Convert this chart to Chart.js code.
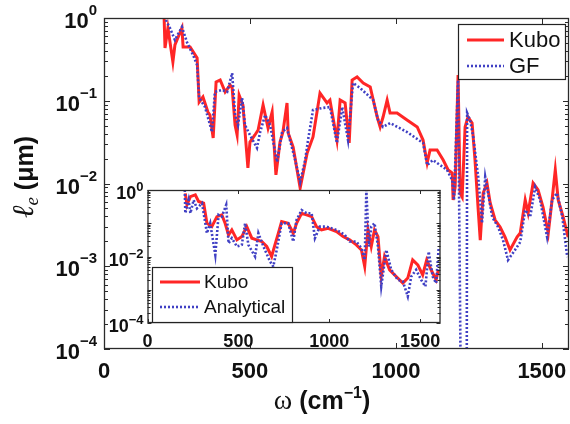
<!DOCTYPE html>
<html>
<head>
<meta charset="utf-8">
<script src="https://cdn.jsdelivr.net/npm/chart.js@4.4.1/dist/chart.umd.min.js"></script>
<style>
  html, body { margin: 0; padding: 0; background: #fff; }
  #wrap { position: relative; width: 570px; height: 424px; overflow: hidden; }
  #mainChart { position: absolute; left: 0; top: 0; }
  #insetChart { position: absolute; left: 100px; top: 180px; }
</style>
</head>
<body>
<div id="wrap">
  <canvas id="mainChart" width="570" height="424"></canvas>
  <canvas id="insetChart" width="350" height="175"></canvas>
</div>
<script>
const SANS = '"Liberation Sans", Arial, sans-serif';
const SERIF = '"Liberation Serif", "DejaVu Serif", serif';
const RED = '#ff2626';
const BLUE = '#4040c4';

// main panel: mean free path (um) vs frequency (cm^-1)
const kuboW = [206, 209, 219, 236, 243, 267, 271, 295, 319, 326,
  339, 356, 363, 374, 384, 398, 415, 432, 439, 449,
  456, 463, 476, 493, 500, 517, 528, 545, 562, 576,
  589, 603, 613, 627, 631, 648, 672, 696, 716, 740,
  764, 774, 798, 809, 826, 840, 850, 867, 888, 912,
  936, 946, 956, 970, 980, 1004, 1038, 1073, 1093, 1107,
  1117, 1141, 1162, 1179, 1193, 1196, 1203, 1213, 1220, 1227,
  1237, 1247, 1261, 1271, 1282, 1289, 1299, 1312, 1323, 1340,
  1357, 1374, 1391, 1415, 1426, 1443, 1453, 1470, 1487, 1504,
  1522, 1535, 1546, 1556, 1573, 1590];
const kuboL = [1.0, 0.434, 0.757, 0.294, 0.472, 0.757, 0.447, 0.447, 0.329, 0.0966,
  0.111, 0.0731, 0.0673, 0.0355, 0.169, 0.178, 0.128, 0.155, 0.143, 0.0509,
  0.0386, 0.117, 0.0889, 0.0154, 0.0317, 0.0386, 0.0443, 0.0889, 0.0469, 0.0731,
  0.0127, 0.0317, 0.0419, 0.094, 0.0408, 0.0276, 0.00883, 0.0234, 0.0365, 0.124,
  0.094, 0.102, 0.0335, 0.102, 0.094, 0.0309, 0.178, 0.194, 0.164, 0.147,
  0.0636, 0.0482, 0.0636, 0.102, 0.0711, 0.0711, 0.0585, 0.0482, 0.0335, 0.0177,
  0.0254, 0.0254, 0.0192, 0.0146, 0.0134, 0.00632, 0.00908, 0.205, 0.00767, 0.00687,
  0.0482, 0.0636, 0.0538, 0.0192, 0.00479, 0.00207, 0.00767, 0.0101, 0.00581, 0.00362,
  0.00298, 0.00225, 0.00157, 0.00225, 0.00252, 0.00632, 0.0044, 0.0101, 0.00834, 0.0052,
  0.00252, 0.00632, 0.0146, 0.00632, 0.00394, 0.00225];

const gfW = [212, 226, 243, 267, 284, 305, 319, 326, 346, 370,
  380, 404, 422, 439, 449, 459, 473, 483, 500, 524,
  535, 552, 569, 593, 610, 627, 637, 655, 672, 689,
  699, 716, 747, 774, 798, 816, 836, 853, 877, 922,
  939, 956, 980, 1038, 1093, 1107, 1127, 1175, 1193, 1199,
  1213, 1226, 1242, 1244, 1254, 1265, 1282, 1295, 1306, 1312,
  1330, 1350, 1367, 1384, 1408, 1426, 1443, 1460, 1477, 1494,
  1518, 1535, 1552, 1570, 1587];
const gfL = [0.946, 0.757, 0.542, 0.778, 0.513, 0.357, 0.27, 0.108, 0.084, 0.0419,
  0.128, 0.135, 0.128, 0.216, 0.0673, 0.0509, 0.108, 0.0509, 0.0386, 0.0269,
  0.0419, 0.0673, 0.0509, 0.0182, 0.0419, 0.0469, 0.0335, 0.0192, 0.0104, 0.0192,
  0.0335, 0.0773, 0.0817, 0.084, 0.0309, 0.084, 0.0335, 0.164, 0.143, 0.102,
  0.0585, 0.0482, 0.0538, 0.0419, 0.0309, 0.0167, 0.0192, 0.0146, 0.011, 0.00632,
  0.178, 0.000001, 0.000001, 0.0711, 0.0585, 0.0365, 0.012, 0.00333, 0.012, 0.00908,
  0.00394, 0.00298, 0.00207, 0.00119, 0.00157, 0.00196, 0.00479, 0.00394, 0.00908, 0.00632,
  0.00225, 0.00632, 0.00767, 0.00394, 0.00129];

// inset: Kubo vs analytical
const insetKuboW = [208, 217, 236, 263, 281, 309, 327, 354, 382, 409,
  427, 446, 464, 492, 519, 546, 574, 601, 629, 656,
  683, 701, 720, 738, 774, 802, 820, 848, 875, 903,
  930, 957, 994, 1040, 1076, 1112, 1149, 1177, 1195, 1213,
  1231, 1249, 1268, 1286, 1304, 1332, 1368, 1405, 1432, 1459,
  1487, 1514, 1536, 1560, 1588, 1600];
const insetKuboL = [0.79, 0.355, 0.63, 0.71, 0.45, 0.4, 0.1, 0.079, 0.158, 0.178,
  0.1, 0.0447, 0.063, 0.0316, 0.0398, 0.079, 0.0355, 0.0316, 0.0282, 0.02,
  0.01, 0.0224, 0.05, 0.112, 0.1, 0.05, 0.1, 0.2, 0.178, 0.158,
  0.079, 0.063, 0.0708, 0.0562, 0.0398, 0.0316, 0.0224, 0.0158, 0.005, 0.063,
  0.02, 0.063, 0.0398, 0.0025, 0.01, 0.00398, 0.0025, 0.00158, 0.00224, 0.0079,
  0.0056, 0.0028, 0.0079, 0.00398, 0.002, 0.004];

const anaW = [205, 208, 226, 236, 254, 272, 300, 327, 345, 373,
  391, 409, 433, 446, 464, 492, 519, 537, 555, 592,
  610, 638, 674, 692, 711, 738, 774, 802, 820, 848,
  875, 903, 921, 948, 985, 1040, 1085, 1112, 1149, 1177,
  1195, 1204, 1218, 1231, 1249, 1268, 1286, 1314, 1341, 1377,
  1405, 1432, 1451, 1478, 1505, 1529, 1547, 1569, 1588, 1602];
const anaL = [1.0, 0.2, 0.5, 0.2, 0.5, 0.28, 0.4, 0.05, 0.1, 0.0112,
  0.178, 0.158, 0.355, 0.0251, 0.0355, 0.02, 0.0224, 0.1, 0.0224, 0.01,
  0.05, 0.02, 0.0071, 0.005, 0.0158, 0.1, 0.1, 0.0282, 0.126, 0.25,
  0.2, 0.2, 0.0355, 0.079, 0.079, 0.063, 0.0447, 0.0282, 0.0282, 0.0178,
  0.0079, 1.0, 0.02, 0.079, 0.1, 0.02, 0.00126, 0.0158, 0.00398, 0.002,
  0.00178, 0.00063, 0.0025, 0.00398, 0.002, 0.00126, 0.0141, 0.0025, 0.00158, 0.0178];

const xTicks = [0, 500, 1000, 1500];
const decades = [1e-4, 1e-3, 1e-2, 1e-1, 1];
const insetLabelDecades = [1e-4, 1e-2, 1];

function pts(w, l) {
  return w.map((x, i) => ({ x: x, y: l[i] }));
}

function expText(v) {
  const e = Math.round(Math.log10(v));
  return e < 0 ? '\u2212' + (-e) : String(e);
}

// "10" with a raised exponent, right-aligned at `right`
function powLabel(ctx, right, py, v, f) {
  const exp = expText(v);
  const big = 'bold ' + f.size + 'px ' + SANS;
  const small = 'bold ' + f.expSize + 'px ' + SANS;
  ctx.textAlign = 'left';
  ctx.textBaseline = 'alphabetic';
  ctx.font = big;
  const w1 = ctx.measureText('10').width;
  ctx.font = small;
  const w2 = ctx.measureText(exp).width;
  ctx.font = big;
  ctx.fillText('10', right - w2 - w1, py + f.baseOff);
  ctx.font = small;
  ctx.fillText(exp, right - w2, py + f.expOff);
}

// runs of text with their own font and vertical shift, centred on 0
function drawRuns(ctx, runs) {
  let total = 0;
  runs.forEach(r => { ctx.font = r.font; r.w = ctx.measureText(r.t).width; total += r.w; });
  let x = -total / 2;
  ctx.textAlign = 'left';
  ctx.textBaseline = 'alphabetic';
  runs.forEach(r => { ctx.font = r.font; ctx.fillText(r.t, x, r.dy || 0); x += r.w; });
}

const framePlugin = {
  id: 'frame',
  beforeDatasetsDraw(chart) {
    const { ctx, chartArea: a } = chart;
    ctx.save();
    ctx.fillStyle = '#fff';
    ctx.fillRect(a.left, a.top, a.right - a.left, a.bottom - a.top);
    ctx.restore();
  },
  afterDraw(chart, args, o) {
    const { ctx, chartArea: a } = chart;
    const x = chart.scales.x, y = chart.scales.y;
    ctx.save();
    ctx.strokeStyle = '#2a2a2a';
    ctx.lineWidth = 1;

    // inward tick marks on all four sides
    ctx.beginPath();
    xTicks.forEach(v => {
      const px = Math.round(x.getPixelForValue(v)) + 0.5;
      ctx.moveTo(px, a.bottom); ctx.lineTo(px, a.bottom - o.tick);
      ctx.moveTo(px, a.top); ctx.lineTo(px, a.top + o.tick);
    });
    decades.forEach(d => {
      const py = Math.round(y.getPixelForValue(d)) + 0.5;
      ctx.moveTo(a.left, py); ctx.lineTo(a.left + o.tick, py);
      ctx.moveTo(a.right, py); ctx.lineTo(a.right - o.tick, py);
      if (d < 1) {
        for (let m = 2; m < 10; m++) {
          const pm = Math.round(y.getPixelForValue(d * m)) + 0.5;
          ctx.moveTo(a.left, pm); ctx.lineTo(a.left + o.minor, pm);
          ctx.moveTo(a.right, pm); ctx.lineTo(a.right - o.minor, pm);
        }
      }
    });
    ctx.stroke();

    ctx.lineWidth = 1.3;
    ctx.strokeRect(a.left + 0.5, a.top + 0.5, a.right - a.left - 1, a.bottom - a.top - 1);

    // tick labels
    ctx.fillStyle = '#111';
    ctx.font = 'bold ' + o.font.size + 'px ' + SANS;
    ctx.textAlign = 'center';
    ctx.textBaseline = 'alphabetic';
    xTicks.forEach(v => {
      ctx.fillText(String(v), x.getPixelForValue(v), a.bottom + o.xLabelOff);
    });
    o.yLabels.forEach(v => {
      powLabel(ctx, a.left - o.yLabelGap, y.getPixelForValue(v), v, o.font);
    });

    // legend box
    const L = o.legend;
    ctx.fillStyle = '#fff';
    ctx.fillRect(L.box[0], L.box[1], L.box[2] - L.box[0], L.box[3] - L.box[1]);
    ctx.strokeStyle = '#222';
    ctx.lineWidth = 1.2;
    ctx.strokeRect(L.box[0] + 0.5, L.box[1] + 0.5, L.box[2] - L.box[0], L.box[3] - L.box[1]);
    chart.data.datasets.forEach((ds, i) => {
      const ly = L.rows[i];
      ctx.strokeStyle = ds.borderColor;
      ctx.lineWidth = ds.borderWidth;
      ctx.setLineDash(ds.borderDash || []);
      ctx.beginPath();
      ctx.moveTo(L.line[0], ly); ctx.lineTo(L.line[1], ly);
      ctx.stroke();
      ctx.setLineDash([]);
      ctx.fillStyle = '#111';
      ctx.font = L.size + 'px ' + SANS;
      ctx.textAlign = 'left';
      ctx.textBaseline = 'middle';
      ctx.fillText(ds.label, L.textX, ly + 1);
    });

    // axis titles
    if (o.titles) {
      ctx.fillStyle = '#111';
      ctx.save();
      ctx.translate(322, 409);
      drawRuns(ctx, [
        { t: '\u03c9', font: '28px ' + SERIF },
        { t: ' (cm', font: 'bold 25px ' + SANS },
        { t: '\u22121', font: 'bold 16px ' + SANS, dy: -11 },
        { t: ')', font: 'bold 25px ' + SANS }
      ]);
      ctx.restore();
      ctx.save();
      ctx.translate(33, 177);
      ctx.rotate(-Math.PI / 2);
      drawRuns(ctx, [
        { t: '\u2113', font: 'italic 30px ' + SERIF },
        { t: 'e', font: 'italic 19px ' + SERIF, dy: 5 },
        { t: ' (\u03bcm)', font: 'bold 25px ' + SANS }
      ]);
      ctx.restore();
    }
    ctx.restore();
  }
};

function lineSet(label, w, l, color, dashed, order) {
  return {
    label: label,
    data: pts(w, l),
    borderColor: color,
    borderWidth: dashed ? 2.6 : 3,
    borderDash: dashed ? [2, 2] : [],
    pointRadius: 0,
    tension: 0,
    order: order
  };
}

function baseOptions(padding, xMax, frame) {
  return {
    responsive: false,
    animation: false,
    events: [],
    layout: { padding: padding },
    scales: {
      x: { type: 'linear', display: false, min: 0, max: xMax },
      y: { type: 'logarithmic', display: false, min: 1e-4, max: 1 }
    },
    plugins: {
      legend: { display: false },
      tooltip: { enabled: false },
      frame: frame
    }
  };
}

new Chart(document.getElementById('mainChart'), {
  type: 'line',
  data: {
    datasets: [
      lineSet('Kubo', kuboW, kuboL, RED, false, 1),
      lineSet('GF', gfW, gfL, BLUE, true, 0)
    ]
  },
  options: baseOptions({ left: 104, top: 18, right: 1, bottom: 75 }, 1593, {
    tick: 6, minor: 4,
    font: { size: 22, expSize: 15, baseOff: 10, expOff: -3 },
    xLabelOff: 29, yLabelGap: 7,
    yLabels: decades,
    legend: { box: [458, 24, 565, 79], line: [467, 504], textX: 509, size: 22, rows: [40, 66] },
    titles: true
  }),
  plugins: [framePlugin]
});

new Chart(document.getElementById('insetChart'), {
  type: 'line',
  data: {
    datasets: [
      lineSet('Kubo', insetKuboW, insetKuboL, RED, false, 1),
      lineSet('Analytical', anaW, anaL, BLUE, true, 0)
    ]
  },
  options: baseOptions({ left: 47.5, top: 10, right: 9.5, bottom: 32 }, 1612, {
    tick: 4, minor: 3,
    font: { size: 18, expSize: 13, baseOff: 9, expOff: 1 },
    xLabelOff: 24, yLabelGap: 4,
    yLabels: insetLabelDecades,
    legend: { box: [52, 87, 192, 142], line: [60, 100], textX: 104, size: 19, rows: [102, 127] },
    titles: false
  }),
  plugins: [framePlugin]
});
</script>
</body>
</html>
